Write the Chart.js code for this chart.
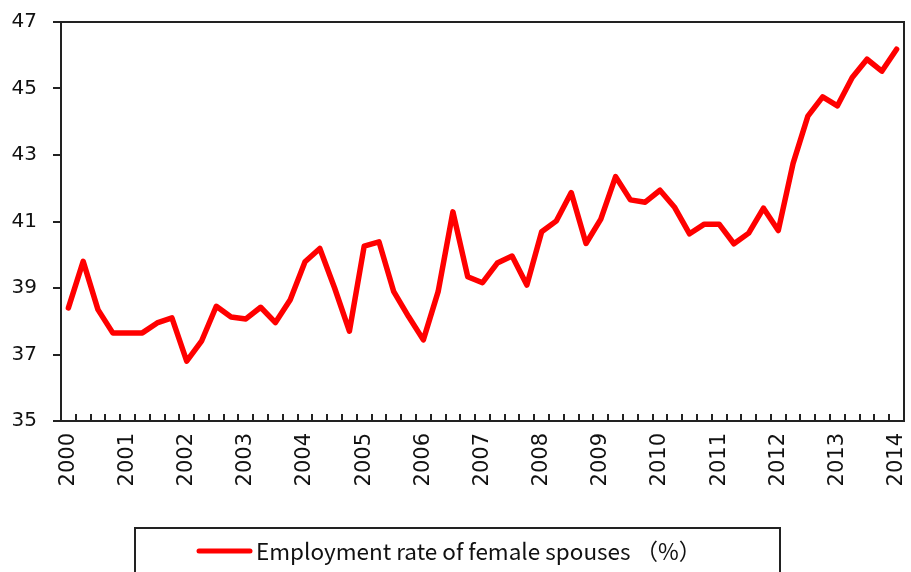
<!DOCTYPE html>
<html>
<head>
  <meta charset="utf-8" />
  <title>Employment rate of female spouses</title>
  <script src="https://cdn.jsdelivr.net/npm/chart.js"></script>
  <style>
    body { margin: 0; background: #fff; }
  </style>
</head>
<body>
  <canvas id="rateChart" width="911" height="572"></canvas>

  <script>
    // Year labels shown under the x axis (one every 4 quarters)
    const years = ['2000', '2001', '2002', '2003', '2004', '2005', '2006', '2007',
                   '2008', '2009', '2010', '2011', '2012', '2013', '2014'];

    // Quarterly categories: 2000Q1 ... 2014Q1
    const quarters = [];
    for (let y = 0; y < years.length; y++) {
      for (let q = 1; q <= 4; q++) {
        if (y === years.length - 1 && q > 1) break;
        quarters.push(years[y] + 'Q' + q);
      }
    }

    // Employment rate of female spouses (%)
    const employmentRate = [
      38.40, 39.80, 38.35, 37.65, 37.65, 37.65, 37.95, 38.10,
      36.80, 37.40, 38.45, 38.13, 38.07, 38.42, 37.96, 38.65,
      39.79, 40.19, 39.00, 37.70, 40.26, 40.39, 38.89, 38.14,
      37.44, 38.89, 41.29, 39.34, 39.16, 39.75, 39.96, 39.09,
      40.69, 41.02, 41.87, 40.34, 41.07, 42.35, 41.65, 41.58,
      41.94, 41.42, 40.63, 40.92, 40.92, 40.33, 40.65, 41.40,
      40.73, 42.75, 44.17, 44.75, 44.48, 45.33, 45.88, 45.52,
      46.18
    ];

    const seriesLabel = 'Employment rate of female spouses \uFF08%\uFF09';

    const axisColor = '#222';
    const tickFont = '"DejaVu Sans", Verdana, sans-serif';

    // Plot frame + boxed legend like the spreadsheet original
    const framePlugin = {
      id: 'frame',
      beforeDatasetsDraw(chart) {
        const { ctx, chartArea: a } = chart;
        ctx.save();
        ctx.strokeStyle = axisColor;
        ctx.lineWidth = 2;
        ctx.strokeRect(a.left, a.top, a.right - a.left, a.bottom - a.top);
        ctx.restore();
      },
      afterDraw(chart) {
        const ctx = chart.ctx;
        const ds = chart.data.datasets[0];
        ctx.save();
        // legend box
        ctx.strokeStyle = axisColor;
        ctx.lineWidth = 2;
        ctx.strokeRect(135, 528, 645, 60);
        // legend sample line
        ctx.strokeStyle = ds.borderColor;
        ctx.lineWidth = 5;
        ctx.lineCap = 'round';
        ctx.beginPath();
        ctx.moveTo(199, 551);
        ctx.lineTo(250, 551);
        ctx.stroke();
        // legend text
        ctx.fillStyle = '#111';
        ctx.font = '22.5px "Noto Sans CJK SC", sans-serif';
        ctx.textBaseline = 'middle';
        ctx.textAlign = 'left';
        ctx.fillText(ds.label, 256, 551);
        ctx.restore();
      }
    };

    const ctx = document.getElementById('rateChart').getContext('2d');
    new Chart(ctx, {
      type: 'line',
      data: {
        labels: quarters,
        datasets: [{
          label: seriesLabel,
          data: employmentRate,
          borderColor: '#ff0000',
          borderWidth: 5.5,
          borderJoinStyle: 'round',
          borderCapStyle: 'round',
          pointRadius: 0,
          fill: false,
          tension: 0
        }]
      },
      options: {
        responsive: false,
        devicePixelRatio: 1,
        animation: false,
        layout: { padding: { left: 0, right: 7, top: 22, bottom: 0 } },
        plugins: {
          legend: { display: false },
          tooltip: { enabled: false }
        },
        scales: {
          x: {
            type: 'category',
            offset: true,
            grid: {
              offset: true,
              drawOnChartArea: false,
              drawTicks: true,
              tickLength: -7,
              color: axisColor,
              lineWidth: 2
            },
            border: { color: axisColor, width: 2 },
            ticks: {
              autoSkip: false,
              maxRotation: 90,
              minRotation: 90,
              padding: 19,
              color: '#111',
              font: { family: tickFont, size: 21 },
              callback: (val, i) => (i % 4 === 0 ? years[i / 4] : '')
            },
            afterFit: s => {
              s.height = 151;
              s.paddingLeft = 0;
              s.paddingRight = 0;
            }
          },
          y: {
            min: 35,
            max: 47,
            grid: {
              drawOnChartArea: false,
              drawTicks: true,
              tickLength: 8,
              color: axisColor,
              lineWidth: 2
            },
            border: { color: axisColor, width: 2 },
            ticks: {
              stepSize: 2,
              padding: 16,
              color: '#111',
              font: { family: tickFont, size: 20 }
            },
            afterFit: s => {
              s.width = 61;
              s.paddingTop = 0;
              s.paddingBottom = 0;
            }
          }
        }
      },
      plugins: [framePlugin]
    });
  </script>
</body>
</html>
